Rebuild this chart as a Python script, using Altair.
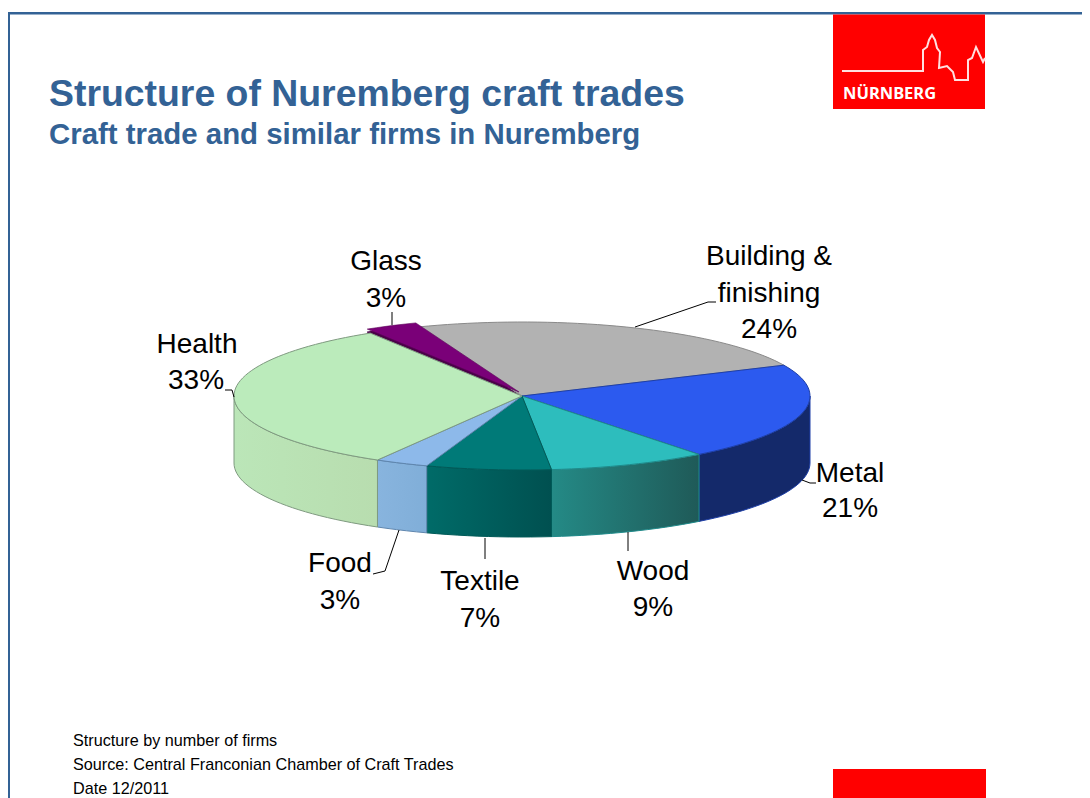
import math
import altair as alt
import pandas as pd

NAMES = ["Building & finishing", "Metal", "Wood", "Textile", "Food", "Health", "Glass"]
SHARES = [24, 21.3, 8.9, 7, 3, 32.8, 3]
TOP_COLORS = ["#B2B2B2", "#2C5AEF", "#2DBDBD", "#007A78", "#8DB9EA", "#BBEBBB", "#7A0078"]
EDGE_COLORS = ["#8A8A8A", "#1E3FA8", "#1F8A8A", "#005A58", "#5F86AE", "#7F9A80", "#5A0058"]
WALL_STOPS = {
    "Metal": ["#14296A", "#14296A"],
    "Wood": ["#248A86", "#1F5A58"],
    "Textile": ["#006B68", "#005050"],
    "Food": ["#88B4DE", "#80AED8"],
    "Health": ["#BBE6B8", "#B8DDAF"],
}
LABELS = [
    ("Glass", 386, 262), ("3%", 386, 299),
    ("Building &", 769, 257), ("finishing", 769, 294), ("24%", 769, 330),
    ("Health", 197, 345), ("33%", 196, 381),
    ("Metal", 850, 474), ("21%", 850, 509),
    ("Wood", 653, 572), ("9%", 653, 608),
    ("Textile", 480, 582), ("7%", 480, 619),
    ("Food", 340, 564), ("3%", 340, 601),
]
LEADERS = [
    [(635, 327), (708, 302), (716, 302)],
    [(392, 312), (392, 325)],
    [(225, 390), (232, 390), (234, 397)],
    [(802, 480), (810, 483), (816, 483)],
    [(628, 532), (628, 551)],
    [(485, 538), (485, 559)],
    [(399, 530), (385, 571), (373, 574)],
]
SKYLINE = [(842, 71), (923, 71), (923, 50), (927, 47), (929, 40), (932, 35), (935, 40), (937, 48),
           (940, 52), (939, 68), (947, 66), (953, 72), (955, 80), (968, 80), (968, 60), (972, 58),
           (976, 47), (983, 62), (985, 58)]
FOOT = ["Structure by number of firms", "Source: Central Franconian Chamber of Craft Trades", "Date 12/2011"]

CX, CY, RX, RY, DEPTH, START = 522, 396, 288, 74, 67, -21
NAVY = "#336295"
X = alt.X("x:Q", scale=alt.Scale(domain=[8, 1082], nice=False, zero=False), axis=None)
Y = alt.Y("y:Q", scale=alt.Scale(domain=[798, 8], nice=False, zero=False), axis=None)


def pt(t, dx=0, dy=0):
    r = math.radians(t)
    return (CX + dx + RX * math.sin(r), CY + dy - RY * math.cos(r))


def arc(t1, t2, dx=0, dy=0):
    n = max(2, int(abs(t2 - t1) / 2))
    return [pt(t1 + (t2 - t1) * i / n, dx, dy) for i in range(n + 1)]


def poly(points, fill, stroke, sw=1.0):
    pts = list(points) + [points[0]]
    df = pd.DataFrame({"x": [p[0] for p in pts], "y": [p[1] for p in pts], "i": range(len(pts))})
    return alt.Chart(df).mark_line(fill=fill, stroke=stroke, strokeWidth=sw, interpolate="linear").encode(
        x=X, y=Y, order="i:Q")


def path(points, color="#000000", sw=1.0):
    df = pd.DataFrame({"x": [p[0] for p in points], "y": [p[1] for p in points], "i": range(len(points))})
    return alt.Chart(df).mark_line(stroke=color, strokeWidth=sw).encode(x=X, y=Y, order="i:Q")


def grad(c):
    return alt.Gradient(gradient="linear", x1=0, x2=1, y1=0, y2=0,
                        stops=[alt.GradientStop(color=c[0], offset=0), alt.GradientStop(color=c[1], offset=1)])


bounds = {}
acc = START
for n, s in zip(NAMES, SHARES):
    bounds[n] = (acc, acc + s * 3.6)
    acc += s * 3.6

layers = []
# frame and logo
rect = lambda x1, y1, x2, y2, c: poly([(x1, y1), (x2, y1), (x2, y2), (x1, y2)], c, c, 0)
layers += [rect(8, 12, 1082, 14.5, NAVY), rect(8, 12, 10, 798, NAVY),
           rect(833, 14.5, 985, 109, "#FF0000"), rect(833, 769, 986, 798, "#FF0000"),
           path(SKYLINE, "#FFE0E0", 2.0)]

# side walls
for n in ["Metal", "Wood", "Textile", "Food", "Health"]:
    a, b = bounds[n]
    a2 = max(a, 90) if n == "Metal" else a
    b2 = min(b, 270)
    p = arc(a2, b2) + arc(b2, a2, 0, DEPTH)
    layers.append(poly(p, grad(WALL_STOPS[n]), EDGE_COLORS[NAMES.index(n)]))

# glass underside sliver, then tops
ga, gb = bounds["Glass"]
layers.append(poly([(CX - 3, CY - 1)] + arc(ga, gb, -3, -1), "#4A0048", "#4A0048"))
for n in NAMES[:-1]:
    a, b = bounds[n]
    i = NAMES.index(n)
    layers.append(poly([(CX, CY)] + arc(a, b), TOP_COLORS[i], EDGE_COLORS[i]))
layers.append(poly([(CX - 3, CY - 4)] + arc(ga, gb, -3, -4), TOP_COLORS[-1], EDGE_COLORS[-1], 0.6))

for l in LEADERS:
    layers.append(path(l))


def text(rows, font, size, color, weight="normal", align="center"):
    df = pd.DataFrame(rows, columns=["t", "x", "y"])
    return alt.Chart(df).mark_text(font=font, fontSize=size, color=color, fontWeight=weight,
                                   align=align, baseline="middle").encode(x=X, y=Y, text="t:N")


layers.append(text(LABELS, "Liberation Sans", 28, "#000000"))
layers.append(text([("Structure of Nuremberg craft trades", 49, 95)], "Liberation Sans", 37.4, NAVY, "bold", "left"))
layers.append(text([("Craft trade and similar firms in Nuremberg", 49, 134.5)], "Liberation Sans", 29.4, NAVY, "bold", "left"))
layers.append(text([(f, 73, 741 + 24 * i) for i, f in enumerate(FOOT)], "Liberation Sans", 16.2, "#000000", "normal", "left"))
layers.append(text([("NÜRNBERG", 843, 94)], "Noto Sans", 16.5, "#FFFFFF", "bold", "left"))

chart = alt.layer(*layers).properties(width=1074, height=790, padding=0).configure_view(stroke=None)
chart.save("out.html", embed_options={"renderer": "svg", "actions": False})
